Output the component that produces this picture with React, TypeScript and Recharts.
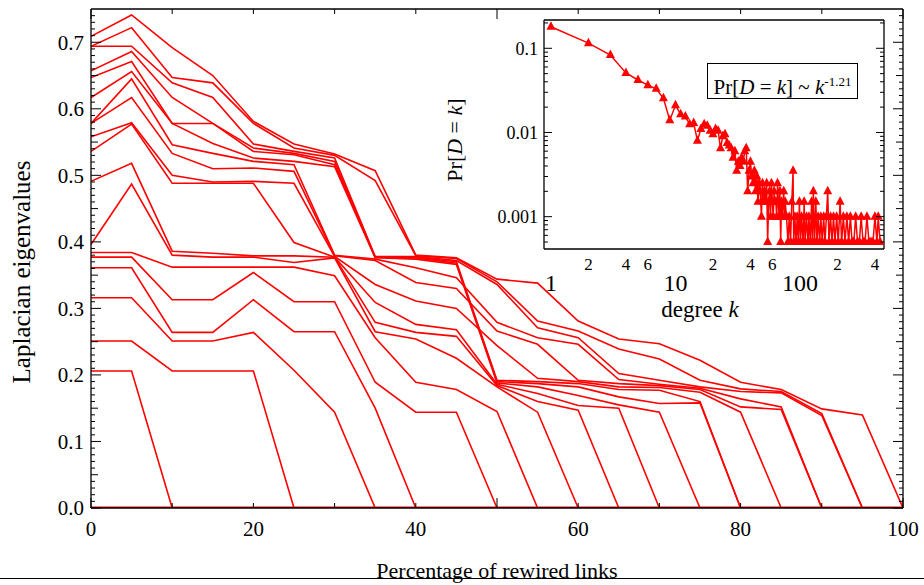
import React from 'react';
import { LineChart, Line, XAxis, YAxis } from 'recharts';

// percentage of rewired links (sample points)
const rewiredPct = [0, 5, 10, 15, 20, 25, 30, 35, 40, 45, 50, 55, 60, 65, 70, 75, 80, 85, 90, 95, 100];

// Laplacian eigenvalue curves, one value per rewiring step
const eig01 = [0.709, 0.741, 0.692, 0.650, 0.581, 0.547, 0.532, 0.507, 0.380, 0.376, 0.344, 0.338, 0.281, 0.254, 0.247, 0.222, 0.189, 0.178, 0.149, 0.140, 0];
const eig02 = [0.694, 0.722, 0.647, 0.639, 0.578, 0.541, 0.530, 0.492, 0.379, 0.375, 0.340, 0.281, 0.266, 0.239, 0.224, 0.192, 0.179, 0.175, 0.142, 0, 0];
const eig03 = [0.694, 0.694, 0.639, 0.617, 0.547, 0.536, 0.526, 0.378, 0.378, 0.372, 0.336, 0.271, 0.256, 0.202, 0.192, 0.182, 0.175, 0.173, 0.139, 0, 0];
const eig04 = [0.657, 0.686, 0.617, 0.578, 0.541, 0.533, 0.521, 0.377, 0.377, 0.370, 0.192, 0.190, 0.187, 0.178, 0.177, 0.160, 0, 0, 0, 0, 0];
const eig05 = [0.647, 0.671, 0.578, 0.578, 0.536, 0.531, 0.516, 0.377, 0.376, 0.368, 0.190, 0.187, 0.182, 0.167, 0.157, 0.158, 0, 0, 0, 0, 0];
const eig06 = [0.617, 0.656, 0.578, 0.548, 0.526, 0.521, 0.513, 0.376, 0.374, 0.366, 0.188, 0.182, 0.169, 0.155, 0.144, 0, 0, 0, 0, 0, 0];
const eig07 = [0.578, 0.645, 0.546, 0.533, 0.521, 0.516, 0.380, 0.374, 0.361, 0.346, 0.279, 0.256, 0.246, 0.193, 0.186, 0.180, 0.164, 0.152, 0, 0, 0];
const eig08 = [0.578, 0.617, 0.533, 0.510, 0.511, 0.506, 0.379, 0.372, 0.339, 0.330, 0.266, 0.246, 0.192, 0.187, 0.184, 0.178, 0.152, 0.148, 0, 0, 0];
const eig09 = [0.558, 0.579, 0.500, 0.490, 0.491, 0.488, 0.378, 0.336, 0.311, 0.300, 0.244, 0.195, 0.190, 0.182, 0.181, 0.174, 0.144, 0, 0, 0, 0];
const eig10 = [0.536, 0.577, 0.488, 0.488, 0.488, 0.399, 0.377, 0.309, 0.276, 0.268, 0.186, 0.172, 0.154, 0.150, 0, 0, 0, 0, 0, 0, 0];
const eig11 = [0.491, 0.518, 0.386, 0.383, 0.379, 0.379, 0.377, 0.279, 0.264, 0.258, 0.184, 0.160, 0.147, 0, 0, 0, 0, 0, 0, 0, 0];
const eig12 = [0.396, 0.487, 0.380, 0.377, 0.377, 0.369, 0.376, 0.265, 0.254, 0.225, 0.182, 0.144, 0, 0, 0, 0, 0, 0, 0, 0, 0];
const eig13 = [0.384, 0.384, 0.362, 0.362, 0.362, 0.362, 0.349, 0.256, 0.189, 0.178, 0.145, 0, 0, 0, 0, 0, 0, 0, 0, 0, 0];
const eig14 = [0.377, 0.377, 0.313, 0.313, 0.354, 0.310, 0.310, 0.189, 0.144, 0.144, 0, 0, 0, 0, 0, 0, 0, 0, 0, 0, 0];
const eig15 = [0.361, 0.361, 0.264, 0.264, 0.313, 0.265, 0.265, 0.150, 0, 0, 0, 0, 0, 0, 0, 0, 0, 0, 0, 0, 0];
const eig16 = [0.316, 0.316, 0.251, 0.251, 0.264, 0.207, 0.144, 0, 0, 0, 0, 0, 0, 0, 0, 0, 0, 0, 0, 0, 0];
const eig17 = [0.251, 0.251, 0.206, 0.206, 0.206, 0, 0, 0, 0, 0, 0, 0, 0, 0, 0, 0, 0, 0, 0, 0, 0];
const eig18 = [0.206, 0.206, 0, 0, 0, 0, 0, 0, 0, 0, 0, 0, 0, 0, 0, 0, 0, 0, 0, 0, 0];
const eigZero = [0, 0, 0, 0, 0, 0, 0, 0, 0, 0, 0, 0, 0, 0, 0, 0, 0, 0, 0, 0, 0];

const eigenCurves = [eig01, eig02, eig03, eig04, eig05, eig06, eig07, eig08, eig09, eig10,
  eig11, eig12, eig13, eig14, eig15, eig16, eig17, eig18];

const xTicks = [0, 20, 40, 60, 80, 100];
const yTicks = [0, 0.1, 0.2, 0.3, 0.4, 0.5, 0.6, 0.7];

// inset: degree distribution
const degreeK = [1, 2, 3, 4, 5, 6, 7, 8, 9, 10, 11, 12, 13, 14, 15, 16, 17, 18, 19, 20,
  21, 22, 23, 24, 25, 26, 27, 28, 29, 30, 31, 32, 33, 34, 35, 36, 37, 38, 39, 40,
  41, 42, 43, 44, 45, 46, 47, 48, 49, 50, 51, 52, 53, 54, 55, 56, 57, 58, 59, 60,
  61, 62, 63, 64, 65, 66, 67, 68, 69, 70, 71, 72, 74, 75, 76, 78, 80, 82, 84, 86,
  88, 89, 91, 93, 95, 97, 99, 101, 103, 106, 108, 110, 113, 116, 118, 121, 124, 126, 128, 131,
  134, 137, 140, 144, 147, 151, 155, 159, 163, 167, 171, 176, 181, 186, 191, 197, 203, 210, 216, 223,
  230, 238, 246, 254, 262, 271, 280, 290, 300, 310, 321, 333, 345, 358, 372, 386, 400, 415, 425, 440];
const degreeP = [0.18, 0.115, 0.083, 0.051, 0.042, 0.0365, 0.033, 0.0255, 0.014, 0.021, 0.0165, 0.0155, 0.0125, 0.013, 0.008, 0.011, 0.0125, 0.012, 0.0105, 0.0095,
  0.011, 0.0105, 0.0065, 0.009, 0.0095, 0.0075, 0.007, 0.0065, 0.005, 0.006, 0.0035, 0.0045, 0.004, 0.005, 0.0045, 0.006, 0.0065, 0.002, 0.0035, 0.0045,
  0.003, 0.0025, 0.0035, 0.002, 0.003, 0.0015, 0.0025, 0.002, 0.001, 0.0025, 0.0015, 0.002, 0.0015, 0.0025, 0.0005, 0.0015, 0.002, 0.001, 0.0025, 0.0015,
  0.001, 0.002, 0.0015, 0.0015, 0.001, 0.0025, 0.0015, 0.001, 0.002, 0.0005, 0.0015, 0.001, 0.002, 0.001, 0.0015, 0.001, 0.0005, 0.001, 0.0005, 0.0015,
  0.0035, 0.0005, 0.001, 0.0005, 0.001, 0.0005, 0.0015, 0.0005, 0.001, 0.0005, 0.0015, 0.0005, 0.001, 0.0005, 0.001, 0.0005, 0.0015, 0.0005, 0.002, 0.0005,
  0.0015, 0.0005, 0.001, 0.0005, 0.001, 0.0005, 0.001, 0.0005, 0.001, 0.002, 0.0005, 0.001, 0.0005, 0.001, 0.0005, 0.001, 0.0005, 0.0015, 0.0005, 0.001,
  0.0005, 0.001, 0.0005, 0.001, 0.0005, 0.0005, 0.001, 0.0005, 0.0005, 0.001, 0.0005, 0.0005, 0.001, 0.0005, 0.0005, 0.0005, 0.001, 0.0005, 0.001, 0.0005];

// inset x labels: small mantissa digits between the decade labels
const insetSmallTicks = [2, 4, 6, 20, 40, 60, 200, 400];
const insetSmallText = ['2', '4', '6', '2', '4', '6', '2', '4'];
const insetBigLabels = [1, 10, 100];
const insetYLabels = [0.001, 0.01, 0.1];

const RED = '#ff0000';
const FONT = '"Liberation Serif", "Times New Roman", serif';

// evenly spaced tick marks for the frame
const range = (from: number, to: number, step: number) => {
  const out: number[] = [];
  for (let i = 0; from + i * step <= to + 1e-9; i++) out.push(+(from + i * step).toFixed(4));
  return out;
};
// minor tick marks on a log axis
const logMinor = (lo: number, hi: number) => {
  const out: number[] = [];
  for (let d = lo; d < hi; d *= 10) for (let m = 2; m <= 9; m++) if (m * d <= hi) out.push(+(m * d).toPrecision(3));
  return out;
};
const isMultiple = (v: number, step: number) => Math.abs(v / step - Math.round(v / step)) < 1e-6;

const mainRows = rewiredPct.map((x, i) => {
  const row: any = { x, zero: eigZero[i] };
  eigenCurves.forEach((c, j) => { row['e' + j] = c[i]; });
  return row;
});
const insetRows = degreeK.map((k, i) => ({ k, p: degreeP[i] }));

const frameStroke = { stroke: '#000', strokeWidth: 1.3 };

type Side = 'top' | 'bottom' | 'left' | 'right';
// inward tick mark drawn at the axis line, length depends on the value
const tickMark = (side: Side, lenOf: (v: number) => number) => (props: any) => {
  const { x, y, payload, index } = props;
  const len = lenOf(payload.value);
  let x2 = x, y2 = y;
  if (side === 'bottom') y2 = y - len;
  else if (side === 'top') y2 = y + len;
  else if (side === 'left') x2 = x + len;
  else x2 = x - len;
  return <line key={index} x1={x} y1={y} x2={x2} y2={y2} stroke="#000" strokeWidth={1} />;
};

const xFrame = (id: string, side: 'top' | 'bottom', domain: number[], ticks: number[], lenOf: (v: number) => number, scale: any = 'auto') => (
  <XAxis key={id} xAxisId={id} orientation={side} mirror type="number" scale={scale} domain={domain} allowDataOverflow
    ticks={ticks} interval={0} tickSize={0} tickMargin={0} tickLine={false} height={1}
    axisLine={frameStroke} tick={tickMark(side, lenOf)} />
);
const yFrame = (id: string, side: 'left' | 'right', domain: number[], ticks: number[], lenOf: (v: number) => number, scale: any = 'auto') => (
  <YAxis key={id} yAxisId={id} orientation={side} mirror type="number" scale={scale} domain={domain} allowDataOverflow
    ticks={ticks} interval={0} tickSize={0} tickMargin={0} tickLine={false} width={1}
    axisLine={frameStroke} tick={tickMark(side, lenOf)} />
);

const mainXLen = (v: number) => (isMultiple(v, 10) ? 10 : 5);
const mainYLen = (v: number) => (isMultiple(v, 0.1) ? 10 : isMultiple(v, 0.05) ? 7 : 4);
const insetXLen = (v: number) => (insetBigLabels.includes(v) ? 8 : 4);
const insetYLen = (v: number) => (insetYLabels.includes(v) ? 8 : 4);

// inset x labels: decades large, intermediate values small and closer to the frame
const InsetXLabel = (props: any) => {
  const { x, y, payload, index } = props;
  const big = insetBigLabels.includes(payload.value);
  const text = big ? String(payload.value) : insetSmallText[insetSmallTicks.indexOf(payload.value)];
  return (
    <text key={index} x={x} y={y + (big ? 42 : 21)} textAnchor="middle" fill="#000"
      fontFamily={FONT} fontSize={big ? 24 : 17}>
      {text}
    </text>
  );
};

const Triangle = (props: any) => {
  const { cx, cy, index } = props;
  if (cx == null || cy == null) return <g key={index} />;
  return <path key={index} d={`M${cx},${cy - 5.5}L${cx + 4.5},${cy + 3}L${cx - 4.5},${cy + 3}Z`} fill={RED} />;
};

const X_DOM = [0, 100];
const Y_DOM = [0, 0.75];
const KX_DOM = [0.879, 473];
const PY_DOM = [0.000413, 0.2168];

export default function App() {
  const mainX = range(0, 100, 2);
  const mainY = range(0, 0.74, 0.01);
  const insetLabelTicks = [...insetBigLabels, ...insetSmallTicks].sort((a, b) => a - b);
  const insetX = [...insetBigLabels, ...logMinor(1, 473)].sort((a, b) => a - b);
  const insetY = [...insetYLabels, ...logMinor(0.0001, 0.2168).filter(v => v > 0.000413)].sort((a, b) => a - b);
  return (
    <div style={{ position: 'absolute', left: 0, top: 0, width: 924, height: 585, overflow: 'hidden', background: '#fff', fontFamily: FONT }}>
      <div style={{ position: 'absolute', left: 0, top: 0 }}>
        <LineChart width={924} height={585} data={mainRows} margin={{ top: 9, right: 21, left: 0, bottom: 0 }}>
          <XAxis xAxisId="b" dataKey="x" type="number" domain={X_DOM} allowDataOverflow ticks={xTicks} interval={0}
            height={77} tickLine={false} axisLine={false} tickSize={0} tickMargin={13}
            tick={{ fontSize: 21, fontFamily: FONT, fill: '#000' }} />
          <YAxis yAxisId="l" type="number" domain={Y_DOM} allowDataOverflow ticks={yTicks} interval={0}
            width={91} tickLine={false} axisLine={false} tickSize={0} tickMargin={7}
            tickFormatter={(v: number) => v.toFixed(1)}
            tick={{ fontSize: 21, fontFamily: FONT, fill: '#000' }} />
          {xFrame('bFrame', 'bottom', X_DOM, mainX, mainXLen)}
          {xFrame('tFrame', 'top', X_DOM, mainX, mainXLen)}
          {yFrame('lFrame', 'left', Y_DOM, mainY, mainYLen)}
          {yFrame('rFrame', 'right', Y_DOM, mainY, mainYLen)}
          {eigenCurves.map((_, j) => (
            <Line key={j} xAxisId="b" yAxisId="l" dataKey={'e' + j} stroke={RED} strokeWidth={1.6}
              dot={false} isAnimationActive={false} />
          ))}
          <Line xAxisId="b" yAxisId="l" dataKey="zero" stroke={RED} strokeWidth={3} dot={false} isAnimationActive={false} />
        </LineChart>
      </div>

      <div style={{ position: 'absolute', left: 440, top: 14 }}>
        <LineChart width={460} height={316} data={insetRows} margin={{ top: 6, right: 16, left: 0, bottom: 0 }}>
          <XAxis xAxisId="big" dataKey="k" type="number" scale="log" domain={KX_DOM} allowDataOverflow
            ticks={insetLabelTicks} interval={0} height={81} tickLine={false} axisLine={false} tickSize={0} tickMargin={0}
            tick={<InsetXLabel />} />
          <YAxis yAxisId="lab" type="number" scale="log" domain={PY_DOM} allowDataOverflow
            ticks={insetYLabels} interval={0} width={104} tickLine={false} axisLine={false} tickSize={0} tickMargin={6}
            tickFormatter={(v: number) => String(v)}
            tick={{ fontSize: 18, fontFamily: FONT, fill: '#000' }} />
          {xFrame('ibFrame', 'bottom', KX_DOM, insetX, insetXLen, 'log')}
          {xFrame('itFrame', 'top', KX_DOM, insetX, insetXLen, 'log')}
          {yFrame('ilFrame', 'left', PY_DOM, insetY, insetYLen, 'log')}
          {yFrame('irFrame', 'right', PY_DOM, insetY, insetYLen, 'log')}
          <Line xAxisId="big" yAxisId="lab" dataKey="p" stroke={RED} strokeWidth={1.5}
            dot={<Triangle />} isAnimationActive={false} />
        </LineChart>
      </div>

      <div style={{ position: 'absolute', left: 455 - 70, top: 140 - 14, width: 140, height: 28, lineHeight: '28px',
        textAlign: 'center', fontSize: 22, transform: 'rotate(-90deg)', whiteSpace: 'nowrap' }}>
        Pr[<i>D</i> = <i>k</i>]
      </div>
      <div style={{ position: 'absolute', left: 600, top: 296, width: 200, height: 28, lineHeight: '28px',
        textAlign: 'center', fontSize: 23 }}>
        degree <i>k</i>
      </div>
      <div style={{ position: 'absolute', left: 707, top: 63, width: 151, height: 36, border: '1px solid #000',
        boxSizing: 'border-box', textAlign: 'center', lineHeight: '35px', fontSize: 21, whiteSpace: 'nowrap', background: '#fff' }}>
        Pr[<i>D</i> = <i>k</i>] ~ <i>k</i><sup style={{ fontSize: 13 }}>-1.21</sup>
      </div>

      <div style={{ position: 'absolute', left: 22 - 150, top: 272 - 14, width: 300, height: 28, lineHeight: '28px',
        textAlign: 'center', fontSize: 25, transform: 'rotate(-90deg)', whiteSpace: 'nowrap' }}>
        Laplacian eigenvalues
      </div>
      <div style={{ position: 'absolute', left: 297, top: 557, width: 400, height: 28, lineHeight: '28px',
        textAlign: 'center', fontSize: 22, whiteSpace: 'nowrap' }}>
        Percentage of rewired links
      </div>
      <div style={{ position: 'absolute', left: 0, top: 578, width: 924, height: 1, background: '#000' }} />
    </div>
  );
}
